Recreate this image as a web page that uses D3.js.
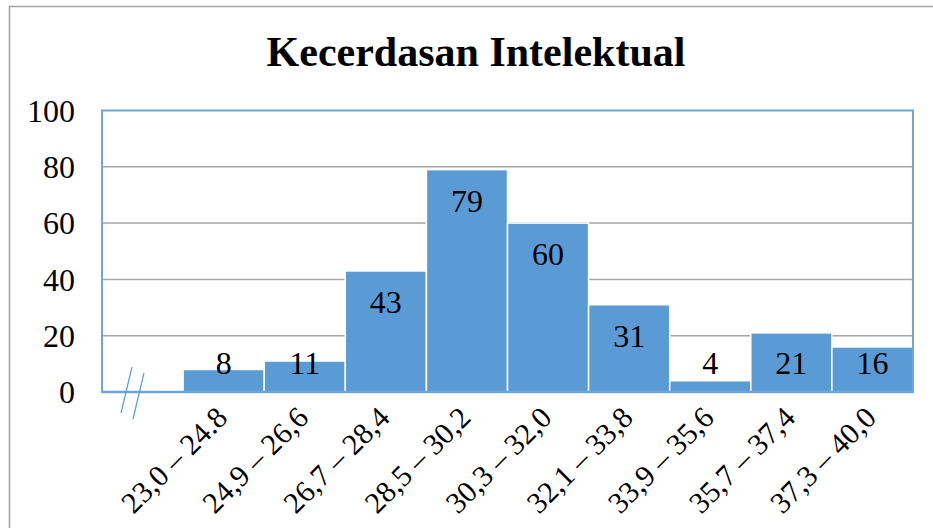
<!DOCTYPE html>
<html>
<head>
<meta charset="utf-8">
<script src="https://cdn.jsdelivr.net/npm/d3@7"></script>
<style>
  body { margin: 0; background: #fff; }
  text { font-family: "Liberation Serif", "Times New Roman", serif; fill: #000; }
</style>
</head>
<body>
<div id="chart"></div>
<script>
// data (first slot is the axis break, no bar)
const categories = ["", "23,0 – 24.8", "24,9 – 26,6", "26,7 – 28,4", "28,5 – 30,2",
  "30,3 – 32,0", "32,1 – 33,8", "33,9 – 35,6", "35,7 – 37,4", "37,3 – 40,0"];
const values = [null, 8, 11, 43, 79, 60, 31, 4, 21, 16];
const yTicks = [0, 20, 40, 60, 80, 100];

const W = 933, H = 528;
const margin = {top: 110.5, right: 20, bottom: 136, left: 102};
const width = 913 - margin.left,
      height = 392 - margin.top;

const svg = d3.select("#chart")
  .append("svg")
    .attr("width", W)
    .attr("height", H);

// outer chart frame (only top and left visible)
svg.append("path")
  .attr("d", `M9.5,${H} V6.5 H${W}`)
  .attr("fill", "none")
  .attr("stroke", "#a5a5a5")
  .attr("stroke-width", 1.6);

svg.append("text")
  .attr("x", 476)
  .attr("y", 66)
  .attr("text-anchor", "middle")
  .attr("font-size", "42px")
  .attr("font-weight", "bold")
  .text("Kecerdasan Intelektual");

const g = svg.append("g")
  .attr("transform", `translate(${margin.left},${margin.top})`);

const x = d3.scaleBand()
  .domain(categories.map((c, i) => i))
  .range([0, width])
  .padding(0);

const y = d3.scaleLinear()
  .domain([0, 100])
  .range([height, 0]);

// gridlines
g.selectAll(".grid")
  .data(yTicks.filter(t => t > 0 && t < 100))
  .join("line")
    .attr("x1", 0)
    .attr("x2", width)
    .attr("y1", d => y(d))
    .attr("y2", d => y(d))
    .attr("stroke", "#a6a6a6")
    .attr("stroke-width", 1.5);

// y axis labels
const yAxis = g.append("g")
  .call(d3.axisLeft(y).tickValues(yTicks).tickSize(0).tickPadding(27));
yAxis.select(".domain").remove();
yAxis.selectAll("text")
  .attr("font-size", "32px")
  .attr("font-family", "'Liberation Serif', 'Times New Roman', serif")
  .attr("dy", "0.34em");

// bars
const data = categories.map((c, i) => ({i: i, name: c, value: values[i]}))
  .filter(d => d.value != null);

g.selectAll("rect.bar")
  .data(data)
  .join("rect")
    .attr("class", "bar")
    .attr("x", d => x(d.i))
    .attr("y", d => y(d.value))
    .attr("width", x.bandwidth())
    .attr("height", d => height - y(d.value))
    .attr("fill", "#5b9bd5")
    .attr("stroke", "#fff")
    .attr("stroke-width", 1.5);

// plot frame
g.append("rect")
  .attr("x", 0)
  .attr("y", 0)
  .attr("width", width)
  .attr("height", height)
  .attr("fill", "none")
  .attr("stroke", "#6fa6da")
  .attr("stroke-width", 2);

// x axis line
g.append("line")
  .attr("x1", 0)
  .attr("x2", width)
  .attr("y1", height)
  .attr("y2", height)
  .attr("stroke", "#6fa6da")
  .attr("stroke-width", 2.5);

// axis break marks in the empty first slot
const bx = x(0) + 30;
[0, 12].forEach(off => {
  g.append("line")
    .attr("x1", bx + off)
    .attr("y1", height - 25 + off / 2)
    .attr("x2", bx + off - 11)
    .attr("y2", height + 21 + off / 2)
    .attr("stroke", "#5b9bd5")
    .attr("stroke-width", 1.2);
});

// data labels
g.selectAll("text.lbl")
  .data(data)
  .join("text")
    .attr("class", "lbl")
    .attr("x", d => x(d.i) + x.bandwidth() / 2)
    .attr("y", d => Math.min(y(d.value) + 31, height - 29))
    .attr("dy", "0.35em")
    .attr("text-anchor", "middle")
    .attr("font-size", "32px")
    .text(d => d.value);

// x category labels, rotated
g.selectAll("text.cat")
  .data(data)
  .join("text")
    .attr("class", "cat")
    .attr("text-anchor", "end")
    .attr("font-size", "30px")
    .attr("transform", d => `translate(${x(d.i) + x.bandwidth() / 2 - 2},${height + 20}) rotate(-45)`)
    .attr("dy", "0.35em")
    .text(d => d.name);
</script>
</body>
</html>
